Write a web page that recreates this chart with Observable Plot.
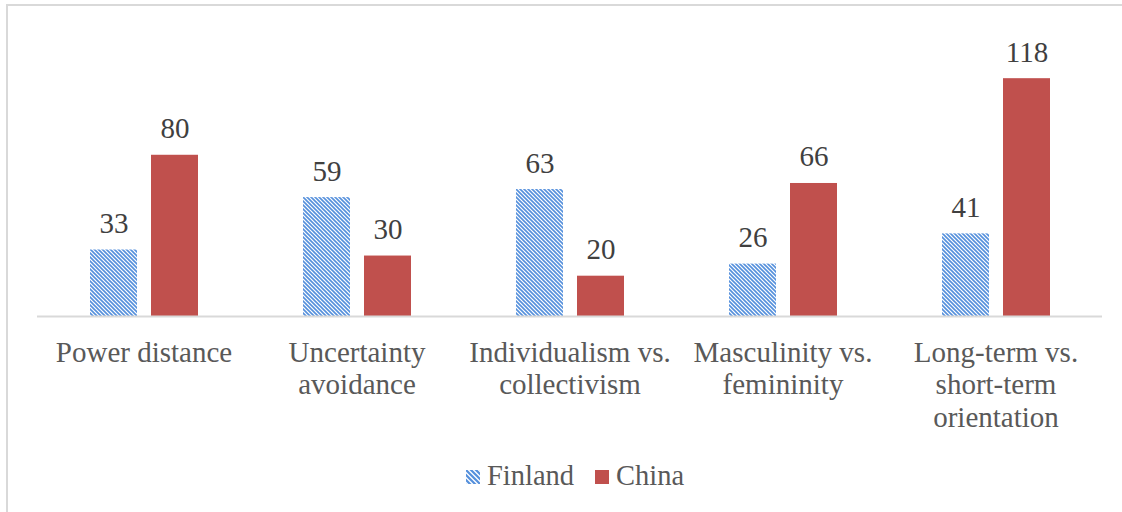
<!DOCTYPE html>
<html>
<head>
<meta charset="utf-8">
<script src="https://cdn.jsdelivr.net/npm/d3@7"></script>
<script src="https://cdn.jsdelivr.net/npm/@observablehq/plot@0.6"></script>
<style>
  html, body { margin: 0; padding: 0; background: #fff; font-family: 'Liberation Serif', serif; }
  #wrap { position: relative; width: 1122px; height: 512px; overflow: hidden; }
  #frame { position: absolute; left: 6px; top: 4px; width: 1200px; height: 600px; border-left: 2px solid #d9d9d9; border-top: 2px solid #d9d9d9; box-sizing: border-box; pointer-events: none; }
  #chart { position: absolute; left: 0; top: 0; }
  #chart svg, #chart svg text { font-family: 'Liberation Serif', serif !important; }
  #legend { position: absolute; left: 466px; top: 458px; display: flex; align-items: center; font-size: 28.5px; line-height: 36px; color: #595959; font-family: 'Liberation Serif', serif; }
  #legend .item { display: flex; align-items: center; margin-right: 21px; }
  #legend svg { margin-right: 7px; margin-top: 2px; }
</style>
</head>
<body>
<div id="wrap">
  <div id="chart"></div>
  <div id="legend"></div>
  <div id="frame"></div>
</div>
<script>
const categories = ["Power distance", "Uncertainty\navoidance", "Individualism vs.\ncollectivism", "Masculinity vs.\nfemininity", "Long-term vs.\nshort-term\norientation"];
const series = ["Finland", "China"];
const finland = [33, 59, 63, 26, 41];
const china = [80, 30, 20, 66, 118];
const colors = {Finland: "url(#hatchFin)", China: "#C0504D"};

const data = [];
categories.forEach((c, i) => {
  data.push({category: c, series: "Finland", value: finland[i]});
  data.push({category: c, series: "China", value: china[i]});
});

const chart = Plot.plot({
  width: 1122,
  height: 450,
  marginLeft: 36,
  marginRight: 20,
  marginTop: 54,
  marginBottom: 134,
  style: {fontFamily: "Liberation Serif", fontSize: "29px", background: "transparent"},
  fx: {domain: categories, padding: 0, label: null},
  x: {domain: series, paddingInner: 0.23, paddingOuter: 0.86, axis: null},
  y: {domain: [0, 130], axis: null},
  marks: [
    Plot.barY(data, {fx: "category", x: "series", y: "value", fill: d => colors[d.series]}),
    Plot.text(data, {fx: "category", x: "series", y: "value", text: d => String(d.value), lineAnchor: "bottom", dy: -17, fill: "#404040", fontSize: 29}),
    Plot.ruleY([0], {stroke: "#d9d9d9", strokeWidth: 2}),
    Plot.axisFx({anchor: "bottom", tickSize: 0, tickPadding: 22, lineHeight: 1.12, fill: "#595959", fontSize: 29, label: null})
  ]
});

// hatch pattern
const svg = d3.select(chart);
const defs = svg.insert("defs", ":first-child");
const pat = defs.append("pattern")
  .attr("id", "hatchFin")
  .attr("patternUnits", "userSpaceOnUse")
  .attr("width", 4).attr("height", 4);
pat.append("rect").attr("width", 4).attr("height", 4).attr("fill", "#fff");
pat.append("path")
  .attr("d", "M-1,-1 L5,5 M-1,3 L1,5 M3,-1 L5,1")
  .attr("stroke", "#5590dc").attr("stroke-width", 1.6);

document.getElementById("chart").appendChild(chart);

// legend
const legend = d3.select("#legend");
series.forEach(s => {
  const item = legend.append("div").attr("class", "item");
  const sw = item.append("svg").attr("width", 14).attr("height", 14);
  if (s === "Finland") {
    const p = sw.append("defs").append("pattern").attr("id", "hatchLeg")
      .attr("patternUnits", "userSpaceOnUse").attr("width", 5).attr("height", 5);
    p.append("rect").attr("width", 5).attr("height", 5).attr("fill", "#fff");
    p.append("path").attr("d", "M-1,-1 L6,6 M-1,4 L1,6 M4,-1 L6,1")
      .attr("stroke", "#5590dc").attr("stroke-width", 2.2);
    sw.append("rect").attr("width", 14).attr("height", 14).attr("fill", "url(#hatchLeg)");
  } else {
    sw.append("rect").attr("width", 14).attr("height", 14).attr("fill", colors[s]);
  }
  item.append("span").text(s);
});
</script>
</body>
</html>
